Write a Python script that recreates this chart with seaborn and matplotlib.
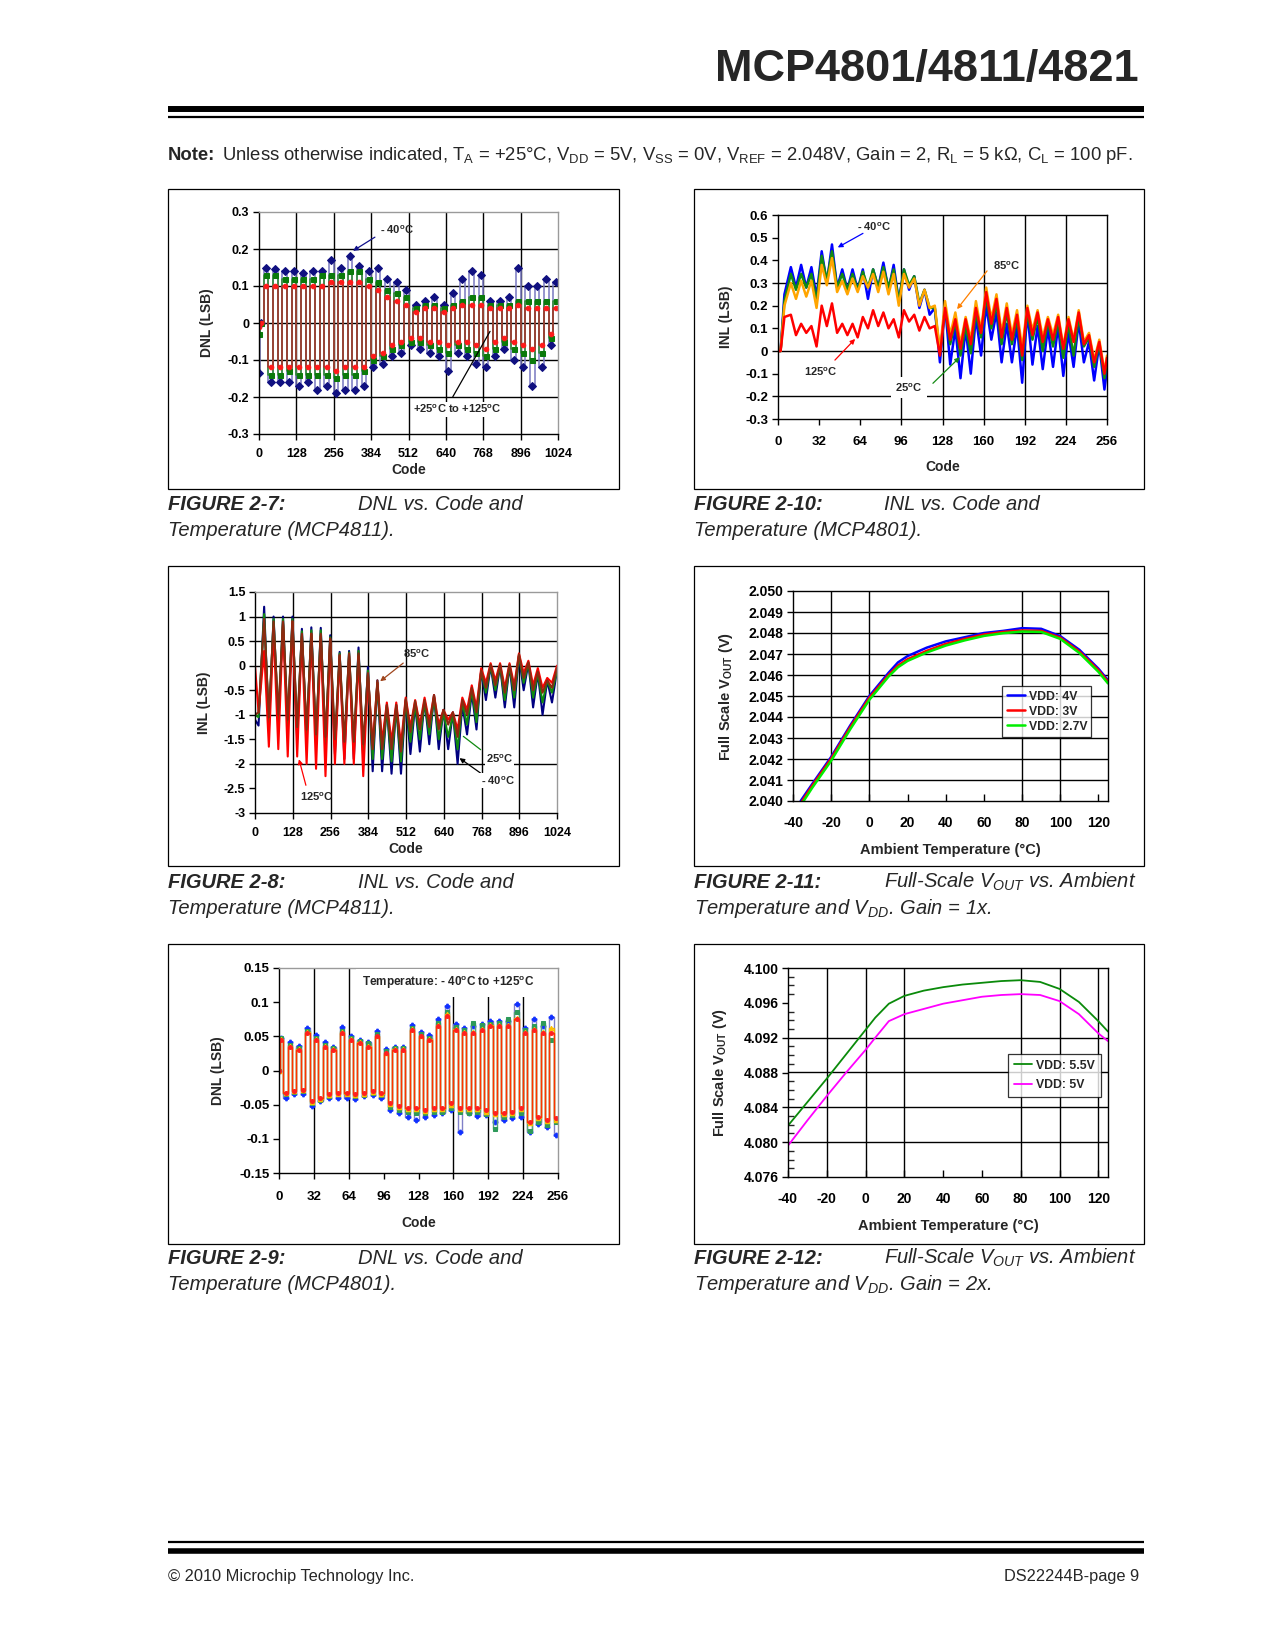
import matplotlib
matplotlib.use("Agg")
import matplotlib.pyplot as plt
import seaborn as sns
from matplotlib import font_manager
from matplotlib.patches import Rectangle
from matplotlib.lines import Line2D

# ---------------------------------------------------------------- data
# FIGURE 2-7 : DNL vs code (MCP4811), plateau levels per 16-code block
DNL7_CODES = [0, 8] + list(range(24, 1001, 16)) + [1016]
DNL7_M40 = [-0.135, 0.0,
            0.15, -0.16, 0.145, -0.16, 0.14, -0.16, 0.14, -0.17, 0.135, -0.16,
            0.14, -0.18, 0.14, -0.17, 0.17, -0.19, 0.15, -0.18, 0.18, -0.18,
            0.155, -0.17, 0.14, -0.12, 0.15, -0.11, 0.12, -0.09, 0.11, -0.08,
            0.09, -0.06, 0.05, -0.07, 0.06, -0.08, 0.07, -0.09, 0.05, -0.13,
            0.08, -0.08, 0.12, -0.09, 0.14, -0.11, 0.13, -0.12, 0.06, -0.09,
            0.06, -0.07, 0.07, -0.10, 0.15, -0.12, 0.10, -0.17, 0.10, -0.12,
            0.12, -0.06,
            0.11]
DNL7_25 = [-0.03, 0.0,
           0.13, -0.14, 0.13, -0.14, 0.12, -0.13, 0.12, -0.14, 0.12, -0.14,
           0.12, -0.14, 0.13, -0.14, 0.13, -0.15, 0.13, -0.14, 0.14, -0.14,
           0.14, -0.13, 0.12, -0.10, 0.11, -0.09, 0.09, -0.07, 0.08, -0.06,
           0.07, -0.05, 0.04, -0.05, 0.05, -0.06, 0.05, -0.07, 0.04, -0.08,
           0.05, -0.06, 0.06, -0.07, 0.07, -0.08, 0.07, -0.09, 0.05, -0.07,
           0.05, -0.05, 0.05, -0.07, 0.06, -0.08, 0.06, -0.10, 0.06, -0.08,
           0.06, -0.04,
           0.06]
DNL7_125 = [-0.01, 0.0,
            0.10, -0.12, 0.10, -0.12, 0.10, -0.12, 0.10, -0.12, 0.10, -0.12,
            0.10, -0.12, 0.10, -0.12, 0.11, -0.13, 0.11, -0.12, 0.11, -0.12,
            0.11, -0.12, 0.10, -0.09, 0.09, -0.08, 0.07, -0.06, 0.06, -0.05,
            0.05, -0.04, 0.03, -0.04, 0.04, -0.05, 0.04, -0.05, 0.03, -0.06,
            0.04, -0.05, 0.05, -0.05, 0.05, -0.06, 0.05, -0.07, 0.04, -0.05,
            0.04, -0.04, 0.04, -0.05, 0.05, -0.06, 0.04, -0.07, 0.04, -0.06,
            0.04, -0.03,
            0.04]

# FIGURE 2-10 : INL vs code (MCP4801)
INL10_CODES = [0, 2, 5] + list(range(10, 255, 4)) + [256]
INL10_M40 = [0, 0, 0.25,
             0.37, 0.28, 0.38, 0.28, 0.37, 0.24, 0.44, 0.30, 0.47, 0.28,
             0.36, 0.27, 0.36, 0.27, 0.36, 0.23, 0.36, 0.28, 0.39, 0.27,
             0.38, 0.22, 0.36, 0.27, 0.33, 0.19, 0.27, 0.16, 0.19, -0.05,
             0.20, -0.06, 0.10, -0.12, 0.10, -0.10, 0.15, -0.02, 0.20, 0.05,
             0.17, -0.05, 0.12, -0.05, 0.11, -0.14, 0.17, -0.06, 0.11, -0.08,
             0.10, -0.07, 0.11, -0.11, 0.08, -0.07, 0.13, -0.05, 0.04, -0.13,
             0.03, -0.17,
             -0.08]
INL10_25 = [0, 0, 0.22,
            0.34, 0.27, 0.34, 0.28, 0.34, 0.22, 0.42, 0.31, 0.44, 0.28,
            0.34, 0.27, 0.34, 0.27, 0.35, 0.28, 0.36, 0.28, 0.37, 0.28,
            0.36, 0.22, 0.36, 0.29, 0.33, 0.21, 0.27, 0.19, 0.19, -0.01,
            0.19, 0.03, 0.13, -0.02, 0.11, -0.01, 0.17, 0.06, 0.24, 0.10,
            0.21, 0.03, 0.17, 0.03, 0.14, -0.04, 0.17, 0.05, 0.15, 0.00,
            0.13, 0.02, 0.13, -0.03, 0.12, -0.02, 0.15, 0.02, 0.06, -0.07,
            0.03, -0.12,
            -0.05]
INL10_85 = [0, 0, 0.20,
            0.30, 0.23, 0.31, 0.24, 0.31, 0.19, 0.38, 0.29, 0.41, 0.26,
            0.31, 0.25, 0.32, 0.26, 0.33, 0.28, 0.34, 0.26, 0.35, 0.25,
            0.34, 0.20, 0.34, 0.28, 0.32, 0.20, 0.27, 0.19, 0.20, 0.00,
            0.22, 0.07, 0.17, 0.03, 0.15, 0.05, 0.22, 0.09, 0.28, 0.14,
            0.25, 0.08, 0.21, 0.07, 0.18, 0.01, 0.20, 0.09, 0.18, 0.06,
            0.15, 0.07, 0.16, 0.02, 0.15, 0.05, 0.18, 0.04, 0.08, -0.04,
            0.05, -0.09,
            -0.02]
INL10_125 = [0, 0, 0.15,
             0.16, 0.07, 0.12, 0.08, 0.11, 0.02, 0.20, 0.11, 0.21, 0.08,
             0.12, 0.07, 0.12, 0.06, 0.15, 0.10, 0.18, 0.11, 0.17, 0.10,
             0.14, 0.06, 0.18, 0.13, 0.16, 0.09, 0.15, 0.10, 0.11, -0.02,
             0.19, 0.05, 0.14, 0.01, 0.14, 0.03, 0.19, 0.08, 0.26, 0.12,
             0.23, 0.06, 0.19, 0.05, 0.16, -0.02, 0.19, 0.07, 0.17, 0.04,
             0.14, 0.05, 0.15, 0.01, 0.14, 0.04, 0.17, 0.03, 0.07, -0.05,
             0.04, -0.10,
             -0.03]

# FIGURE 2-8 : INL vs code (MCP4811)
INL8_CODES = [0, 12] + list(range(31, 1008, 16)) + [1024]
INL8_M40 = [-1.10, -1.22,
            1.20, -1.30, 1.00, -1.20, 1.00, -1.30, 1.00, -1.50, 0.75, -1.50,
            0.78, -1.60, 0.77, -1.70, 0.62, -1.80, 0.28, -1.90, 0.30, -1.90,
            0.37, -1.90, -0.03, -2.15, -0.30, -2.15, -0.80, -2.20, -0.80, -2.20,
            -0.70, -1.80, -0.80, -1.75, -0.70, -1.60, -0.60, -1.70, -0.90, -1.70,
            -0.95, -2.00, -0.80, -1.40, -0.55, -1.30, -0.10, -0.70, 0.00, -0.65,
            0.00, -0.85, 0.00, -0.85, 0.20, -0.50, 0.05, -0.85, -0.15, -1.00,
            -0.30, -0.75,
            -0.10]
INL8_25 = [-1.00, -1.05,
           1.05, -1.15, 0.95, -1.10, 0.95, -1.20, 0.95, -1.35, 0.70, -1.40,
           0.72, -1.50, 0.72, -1.55, 0.58, -1.65, 0.25, -1.70, 0.27, -1.70,
           0.30, -1.75, -0.10, -1.90, -0.35, -1.90, -0.85, -1.95, -0.85, -1.95,
           -0.72, -1.55, -0.80, -1.50, -0.75, -1.40, -0.65, -1.50, -0.95, -1.45,
           -1.00, -1.70, -0.75, -1.20, -0.50, -1.15, -0.10, -0.55, 0.00, -0.50,
           0.00, -0.70, 0.00, -0.65, 0.20, -0.35, 0.05, -0.65, -0.15, -0.75,
           -0.30, -0.55,
           -0.10]
INL8_85 = [-1.00, -0.95,
           0.95, -1.05, 0.90, -1.00, 0.90, -1.10, 0.90, -1.25, 0.65, -1.30,
           0.65, -1.40, 0.65, -1.45, 0.55, -1.50, 0.22, -1.55, 0.25, -1.55,
           0.25, -1.60, -0.15, -1.70, -0.30, -1.70, -0.80, -1.70, -0.80, -1.75,
           -0.68, -1.35, -0.72, -1.30, -0.70, -1.25, -0.60, -1.30, -0.90, -1.20,
           -0.95, -1.45, -0.70, -1.00, -0.45, -0.95, -0.10, -0.45, 0.02, -0.40,
           0.02, -0.55, 0.02, -0.50, 0.23, -0.25, 0.07, -0.50, -0.12, -0.55,
           -0.30, -0.45,
           -0.05]
INL8_125 = [0.00, -0.95,
            0.30, -1.65, 0.75, -1.70, 0.85, -1.85, 0.90, -1.85, 0.60, -2.00,
            0.65, -2.10, 0.60, -2.25, 0.55, -2.00, 0.20, -2.00, 0.20, -2.00,
            0.20, -2.25, -0.20, -1.60, -0.35, -1.55, -0.75, -1.55, -0.75, -1.60,
            -0.65, -1.25, -0.70, -1.20, -0.65, -1.15, -0.60, -1.20, -0.90, -1.10,
            -0.95, -1.30, -0.65, -0.90, -0.40, -0.85, -0.05, -0.35, 0.05, -0.30,
            0.05, -0.45, 0.05, -0.40, 0.25, -0.15, 0.10, -0.40, -0.05, -0.45,
            -0.25, -0.35,
            0.00]

# FIGURE 2-9 : DNL vs code (MCP4801)
DNL9_CODES = [0] + list(range(2, 256, 4))
DNL9_BLUE = [0.0,
             0.048, -0.040, 0.042, -0.035, 0.036, -0.035, 0.062, -0.052, 0.052, -0.045,
             0.042, -0.040, 0.035, -0.040, 0.063, -0.040, 0.050, -0.042, 0.045, -0.038,
             0.042, -0.036, 0.058, -0.040, 0.032, -0.058, 0.034, -0.062, 0.035, -0.068,
             0.066, -0.072, 0.056, -0.068, 0.052, -0.065, 0.075, -0.062, 0.095, -0.058,
             0.068, -0.090, 0.062, -0.062, 0.065, -0.066, 0.068, -0.065, 0.072, -0.075,
             0.072, -0.072, 0.072, -0.070, 0.098, -0.068, 0.062, -0.090, 0.075, -0.078,
             0.065, -0.082, 0.078, -0.095]
DNL9_GREEN = [0.0,
              0.048, -0.035, 0.038, -0.032, 0.033, -0.030, 0.058, -0.047, 0.048, -0.043,
              0.038, -0.038, 0.033, -0.035, 0.058, -0.035, 0.048, -0.038, 0.043, -0.036,
              0.040, -0.033, 0.053, -0.036, 0.028, -0.053, 0.033, -0.058, 0.033, -0.060,
              0.062, -0.062, 0.053, -0.062, 0.048, -0.060, 0.070, -0.060, 0.085, -0.055,
              0.064, -0.060, 0.060, -0.062, 0.070, -0.060, 0.066, -0.064, 0.068, -0.085,
              0.070, -0.068, 0.075, -0.065, 0.085, -0.062, 0.060, -0.088, 0.065, -0.075,
              0.070, -0.080, 0.045, -0.075]
DNL9_ORANGE = [0.0,
               0.046, -0.033, 0.036, -0.030, 0.031, -0.029, 0.056, -0.046, 0.046, -0.041,
               0.036, -0.036, 0.031, -0.034, 0.056, -0.034, 0.046, -0.036, 0.041, -0.034,
               0.036, -0.031, 0.051, -0.034, 0.026, -0.049, 0.031, -0.054, 0.031, -0.056,
               0.061, -0.056, 0.051, -0.059, 0.046, -0.056, 0.066, -0.056, 0.082, -0.050,
               0.061, -0.056, 0.056, -0.056, 0.056, -0.057, 0.061, -0.060, 0.066, -0.064,
               0.066, -0.064, 0.066, -0.062, 0.077, -0.057, 0.056, -0.077, 0.061, -0.070,
               0.056, -0.074, 0.062, -0.072]
DNL9_RED = [0.0,
            0.045, -0.033, 0.035, -0.030, 0.030, -0.028, 0.055, -0.045, 0.045, -0.040,
            0.035, -0.035, 0.030, -0.033, 0.055, -0.033, 0.045, -0.035, 0.040, -0.033,
            0.035, -0.030, 0.050, -0.033, 0.025, -0.048, 0.030, -0.052, 0.030, -0.055,
            0.060, -0.055, 0.050, -0.058, 0.045, -0.055, 0.065, -0.055, 0.080, -0.048,
            0.060, -0.055, 0.055, -0.055, 0.055, -0.055, 0.060, -0.058, 0.065, -0.062,
            0.065, -0.062, 0.065, -0.060, 0.075, -0.055, 0.055, -0.075, 0.060, -0.068,
            0.055, -0.072, 0.055, -0.070]

# FIGURE 2-11 : full scale Vout vs temperature, gain 1x
T11 = [-36, -30, -20, -10, 0, 10, 15, 20, 30, 40, 50, 60, 70, 80, 90, 100, 110, 120, 125]
V11_4V = [2.04000, 2.04080, 2.04210, 2.04360, 2.04500, 2.04610, 2.04660, 2.04690, 2.04730,
          2.04760, 2.04780, 2.04800, 2.04810, 2.04823, 2.04820, 2.04785, 2.04720, 2.04630, 2.04575]
V11_3V = [2.03988, 2.04072, 2.04202, 2.04352, 2.04492, 2.04600, 2.04645, 2.04675, 2.04715,
          2.04748, 2.04772, 2.04793, 2.04805, 2.04812, 2.04810, 2.04778, 2.04712, 2.04623, 2.04568]
V11_27V = [2.03978, 2.04062, 2.04192, 2.04342, 2.04482, 2.04592, 2.04637, 2.04667, 2.04707,
           2.04740, 2.04765, 2.04786, 2.04799, 2.04807, 2.04805, 2.04772, 2.04705, 2.04615, 2.04560]

# FIGURE 2-12 : full scale Vout vs temperature, gain 2x
T12 = [-40, -30, -20, -10, 0, 5, 12, 20, 30, 40, 50, 60, 70, 80, 90, 100, 110, 120, 125]
V12_55V = [4.0819, 4.0846, 4.0873, 4.0901, 4.0929, 4.0943, 4.0959, 4.0968, 4.0974, 4.0978,
           4.0981, 4.0983, 4.0985, 4.0986, 4.0984, 4.0976, 4.0961, 4.0939, 4.0927]
V12_5V = [4.0796, 4.0825, 4.0853, 4.0880, 4.0906, 4.0920, 4.0939, 4.0947, 4.0953, 4.0959,
          4.0963, 4.0967, 4.0969, 4.0970, 4.0969, 4.0962, 4.0947, 4.0925, 4.0916]

CODE_TICKS_1024 = [0, 128, 256, 384, 512, 640, 768, 896, 1024]
CODE_TICKS_256 = [0, 32, 64, 96, 128, 160, 192, 224, 256]
TEMP_TICKS = [-40, -20, 0, 20, 40, 60, 80, 100, 120]

# ---------------------------------------------------------------- style
sns.set_theme(style="white")
names = {f.name for f in font_manager.fontManager.ttflist}
BASE = "Liberation Sans" if "Liberation Sans" in names else "DejaVu Sans"
plt.rcParams["font.family"] = [BASE, "DejaVu Sans"]
plt.rcParams["mathtext.fontset"] = "custom"
plt.rcParams["mathtext.rm"] = BASE
plt.rcParams["mathtext.it"] = BASE + ":italic"
plt.rcParams["mathtext.bf"] = BASE + ":bold"
plt.rcParams["axes.linewidth"] = 1.0

W, H = 1275, 1650
fig = plt.figure(figsize=(W / 100, H / 100), dpi=100)
fig.patch.set_facecolor("white")


def fx(x):
    return x / W


def fy(y):
    return 1 - y / H


def ftext(x, y, s, **kw):
    fig.text(fx(x), fy(y), s, **kw)


def fline(x0, x1, y, lw):
    fig.add_artist(Line2D([fx(x0), fx(x1)], [fy(y), fy(y)], color="black", lw=lw,
                          transform=fig.transFigure, solid_capstyle="butt"))


def frame(l, t, r, b):
    fig.add_artist(Rectangle((fx(l), fy(b)), (r - l) / W, (b - t) / H, fill=False,
                             lw=0.9, edgecolor="black", transform=fig.transFigure))


def px_axes(l, t, r, b):
    return fig.add_axes([fx(l), fy(b), (r - l) / W, (b - t) / H])


def style(ax, xlim, ylim, xticks, yticks, ylabels, fs, gray_spines=True,
          xlabel="Code", ylabel="", xdir="out", ylabfs=10, xpad=5, ylpad=7):
    ax.set_xlim(*xlim)
    ax.set_ylim(*ylim)
    ax.set_xticks(xticks)
    ax.set_xticklabels([str(t) for t in xticks], fontsize=fs, fontweight="bold")
    ax.set_yticks(yticks)
    ax.set_yticklabels(ylabels, fontsize=fs, fontweight="bold")
    ax.tick_params(axis="both", which="major", length=4, width=1, color="black",
                   pad=3, labelcolor="black")
    ax.tick_params(axis="x", direction=xdir, pad=xpad)
    ax.tick_params(axis="y", direction="out")
    ax.tick_params(left=True, bottom=True, top=False, right=False)
    for sp in ax.spines.values():
        sp.set_visible(True)
        sp.set_color("black")
        sp.set_linewidth(1.0)
    if gray_spines:
        ax.spines["top"].set_color("#9a9a9a")
        ax.spines["right"].set_color("#9a9a9a")
    ax.set_xlabel(xlabel, fontsize=ylabfs, fontweight="bold", labelpad=2)
    ax.set_ylabel(ylabel, fontsize=ylabfs, fontweight="bold", labelpad=ylpad)
    ax.grid(False)
    ax.set_facecolor("white")


def grid_h(ax, vals, lw=1.0):
    for v in vals:
        ax.axhline(v, color="black", lw=lw, zorder=0.8)


def grid_v(ax, vals, lw=1.0):
    for v in vals:
        ax.axvline(v, color="black", lw=lw, zorder=0.8)


# ---------------------------------------------------------------- page text
ftext(1139, 70, "MCP4801/4811/4821", fontsize=32.5, fontweight="bold", ha="right", va="center")
fline(168, 1144, 109, 4.3)
fline(168, 1144, 116.5, 1.6)
ftext(168, 156, "Note:", fontsize=13.35, fontweight="bold", ha="left", va="center")
ftext(222, 156,
      r"Unless otherwise indicated, T$_{\mathrm{A}}$ = +25°C, V$_{\mathrm{DD}}$ = 5V, "
      r"V$_{\mathrm{SS}}$ = 0V, V$_{\mathrm{REF}}$ = 2.048V, Gain = 2, R$_{\mathrm{L}}$ = 5 kΩ, "
      r"C$_{\mathrm{L}}$ = 100 pF.", fontsize=13.35, ha="left", va="center")

fline(168, 1144, 1542, 1.6)
fline(168, 1144, 1551, 4.0)
ftext(168, 1577, "© 2010 Microchip Technology Inc.", fontsize=11.8, ha="left", va="center")
ftext(1139, 1577, "DS22244B-page 9", fontsize=11.8, ha="right", va="center")

CAP = 14.5


def caption(x, y, label, rest, line2):
    ftext(x, y, label, fontsize=CAP, fontstyle="italic", fontweight="bold", ha="left", va="center")
    ftext(x + 190, y, rest, fontsize=CAP, fontstyle="italic", ha="left", va="center")
    ftext(x, y + 26, line2, fontsize=CAP, fontstyle="italic", ha="left", va="center")


caption(168, 504, "FIGURE 2-7:", "DNL vs. Code and", "Temperature (MCP4811).")
caption(694, 504, "FIGURE 2-10:", "INL vs. Code and", "Temperature (MCP4801).")
caption(168, 882, "FIGURE 2-8:", "INL vs. Code and", "Temperature (MCP4811).")
caption(694, 882, "FIGURE 2-11:", r"Full-Scale V$_{\mathit{OUT}}$ vs. Ambient",
        r"Temperature and V$_{\mathit{DD}}$. Gain = 1x.")
caption(168, 1258, "FIGURE 2-9:", "DNL vs. Code and", "Temperature (MCP4801).")
caption(694, 1258, "FIGURE 2-12:", r"Full-Scale V$_{\mathit{OUT}}$ vs. Ambient",
        r"Temperature and V$_{\mathit{DD}}$. Gain = 2x.")

for (l, t, r, b) in [(168, 189, 619, 489), (694, 189, 1144, 489),
                     (168, 566, 619, 866), (694, 566, 1144, 866),
                     (168, 944, 619, 1244), (694, 944, 1144, 1244)]:
    frame(l, t, r, b)

WHITE_BOX = dict(facecolor="white", edgecolor="none", pad=1.0)

# ---------------------------------------------------------------- FIGURE 2-7
ax = px_axes(259, 212, 558, 434)
grid_h(ax, [-0.2, -0.1, 0, 0.1, 0.2])
grid_v(ax, CODE_TICKS_1024[1:-1])
for vals, lc, mc, mk, ms in [(DNL7_M40, "#7878c0", "#101080", "D", 3.6),
                             (DNL7_25, "#2e8b2e", "#0b7a0b", "s", 3.6),
                             (DNL7_125, "#b03030", "#ff1a1a", "o", 3.3)]:
    sns.lineplot(x=DNL7_CODES, y=vals, ax=ax, color=lc, lw=1.1, drawstyle="steps-mid",
                 marker=mk, markersize=ms, markerfacecolor=mc, markeredgecolor=mc,
                 legend=False, sort=False)
style(ax, (0, 1024), (-0.3, 0.3), CODE_TICKS_1024, [-0.3, -0.2, -0.1, 0, 0.1, 0.2, 0.3],
      ["-0.3", "-0.2", "-0.1", "0", "0.1", "0.2", "0.3"], 9, ylabel="DNL (LSB)", xpad=6,
      ylpad=10)
ax.annotate("", xy=(314, 0.191), xytext=(405, 0.236),
            arrowprops=dict(arrowstyle="-|>", color="#10108a", lw=0.9, mutation_scale=7))
ax.text(413, 0.252, "- 40$^{\\mathbf{o}}$C", fontsize=8, fontweight="bold", ha="left", va="center")
ax.annotate("", xy=(796, -0.016), xytext=(659, -0.206),
            arrowprops=dict(arrowstyle="-", color="black", lw=0.9))
ax.text(680, -0.233, "+25$^{\\mathbf{o}}$C to +125$^{\\mathbf{o}}$C", fontsize=8, fontweight="bold",
        ha="center", va="center", bbox=WHITE_BOX, zorder=5)

# ---------------------------------------------------------------- FIGURE 2-10
ax = px_axes(778, 215, 1107, 419)
grid_h(ax, [0.3, 0, -0.2])
grid_v(ax, [96, 128, 160, 192, 224])
for vals, c in [(INL10_M40, "#0000ff"), (INL10_25, "#138a13"),
                (INL10_85, "#ffa500"), (INL10_125, "#ff0000")]:
    sns.lineplot(x=INL10_CODES, y=vals, ax=ax, color=c, lw=1.8, legend=False, sort=False)
style(ax, (0, 256), (-0.3, 0.6), CODE_TICKS_256,
      [-0.3, -0.2, -0.1, 0, 0.1, 0.2, 0.3, 0.4, 0.5, 0.6],
      ["-0.3", "-0.2", "-0.1", "0", "0.1", "0.2", "0.3", "0.4", "0.5", "0.6"], 9.5,
      gray_spines=False, ylabel="INL (LSB)", xpad=8, ylpad=9)
ax.xaxis.labelpad = 9
ax.annotate("", xy=(44.6, 0.451), xytext=(68, 0.525),
            arrowprops=dict(arrowstyle="-|>", color="#0000ff", lw=0.9, mutation_scale=7))
ax.text(75, 0.547, "- 40$^{\\mathbf{o}}$C", fontsize=8, fontweight="bold", ha="center", va="center")
ax.annotate("", xy=(138, 0.175), xytext=(164, 0.363),
            arrowprops=dict(arrowstyle="-|>", color="#ff8000", lw=0.9, mutation_scale=7))
ax.text(177.7, 0.378, "85$^{\\mathbf{o}}$C", fontsize=8, fontweight="bold", ha="center", va="center")
ax.annotate("", xy=(61.5, 0.062), xytext=(42.8, -0.049),
            arrowprops=dict(arrowstyle="-|>", color="#ff0000", lw=0.9, mutation_scale=7))
ax.text(33.2, -0.093, "125$^{\\mathbf{o}}$C", fontsize=8, fontweight="bold", ha="center", va="center")
ax.annotate("", xy=(143, -0.019), xytext=(119, -0.151),
            arrowprops=dict(arrowstyle="-|>", color="#138a13", lw=0.9, mutation_scale=7))
ax.text(101.7, -0.162, "25$^{\\mathbf{o}}$C", fontsize=8, fontweight="bold", ha="center",
        va="center", bbox=dict(facecolor="white", edgecolor="none", pad=3), zorder=5)

# ---------------------------------------------------------------- FIGURE 2-8
ax = px_axes(255, 592, 557, 813)
grid_h(ax, [1, 0.5, 0, -1, -2])
grid_v(ax, CODE_TICKS_1024[1:-1])
for vals, c in [(INL8_M40, "#000080"), (INL8_25, "#108a10"),
                (INL8_125, "#ff0000"), (INL8_85, "#8b2a10")]:
    sns.lineplot(x=INL8_CODES, y=vals, ax=ax, color=c, lw=1.5, legend=False, sort=False)
style(ax, (0, 1024), (-3, 1.5), CODE_TICKS_1024,
      [-3, -2.5, -2, -1.5, -1, -0.5, 0, 0.5, 1, 1.5],
      ["-3", "-2.5", "-2", "-1.5", "-1", "-0.5", "0", "0.5", "1", "1.5"], 9, ylabel="INL (LSB)",
      xpad=6, ylpad=9)
ax.annotate("", xy=(417, -0.353), xytext=(510, 0.088),
            arrowprops=dict(arrowstyle="-|>", color="#a0461e", lw=0.9, mutation_scale=7))
ax.text(547, 0.238, "85$^{\\mathbf{o}}$C", fontsize=8, fontweight="bold", ha="center", va="center")
ax.annotate("", xy=(146.6, -1.85), xytext=(175, -2.49),
            arrowprops=dict(arrowstyle="-|>", color="#ff0000", lw=0.9, mutation_scale=7))
ax.text(208.6, -2.66, "125$^{\\mathbf{o}}$C", fontsize=8, fontweight="bold", ha="center", va="center")
ax.annotate("", xy=(699, -1.405), xytext=(772.5, -1.745),
            arrowprops=dict(arrowstyle="-", color="#108a10", lw=0.9))
ax.text(829, -1.90, "25$^{\\mathbf{o}}$C", fontsize=8, fontweight="bold", ha="center",
        va="center", bbox=WHITE_BOX, zorder=5)
ax.annotate("", xy=(685.7, -1.85), xytext=(772.5, -2.22),
            arrowprops=dict(arrowstyle="-|>", color="black", lw=0.9, mutation_scale=7))
ax.text(823, -2.34, "- 40$^{\\mathbf{o}}$C", fontsize=8, fontweight="bold", ha="center",
        va="center", bbox=WHITE_BOX, zorder=5)

# ---------------------------------------------------------------- FIGURE 2-11
ax = px_axes(793, 591, 1108, 801)
grid_h(ax, [2.041 + 0.001 * i for i in range(9)])
grid_v(ax, [-20, 0, 80, 100])
for vals, c, lab in [(V11_4V, "#0000ff", "VDD: 4V"), (V11_3V, "#ff0000", "VDD: 3V"),
                     (V11_27V, "#00ee00", "VDD: 2.7V")]:
    sns.lineplot(x=T11, y=vals, ax=ax, color=c, lw=1.8, label=lab, sort=False)
style(ax, (-40, 125), (2.040, 2.050), TEMP_TICKS,
      [2.040 + 0.001 * i for i in range(11)],
      ["%.3f" % (2.040 + 0.001 * i) for i in range(11)], 10, gray_spines=False,
      xlabel="Ambient Temperature (°C)", ylabel=r"Full Scale V$_{\mathbf{OUT}}$ (V)",
      xdir="in", ylabfs=10.5, ylpad=10)
ax.set_xticks([-30, -10, 10, 30, 50, 70, 90, 110], minor=True)
ax.tick_params(axis="x", which="both", direction="in", length=5, pad=11)
ax.xaxis.labelpad = 9
leg = ax.legend(loc="upper left", bbox_to_anchor=(0.645, 0.575), frameon=True, fancybox=False,
                borderpad=0.35, labelspacing=0.25, handlelength=1.5, handletextpad=0.3,
                prop={"weight": "bold", "size": 8.8})
leg.get_frame().set_edgecolor("black")
leg.get_frame().set_linewidth(0.9)

# ---------------------------------------------------------------- FIGURE 2-9
ax = px_axes(279, 968, 558, 1173)
grid_v(ax, [32, 64, 160, 192, 224])
for vals, lc, mc, mk, ms in [(DNL9_BLUE, "#8080c8", "#1030ff", "P", 3.4),
                             (DNL9_GREEN, "#5aa07a", "#2e9a5a", "s", 3.2),
                             (DNL9_ORANGE, "#f0b000", "#ffc000", "^", 3.2),
                             (DNL9_RED, "#ff3300", "#ff2020", "o", 2.8)]:
    sns.lineplot(x=DNL9_CODES, y=vals, ax=ax, color=lc, lw=1.0, drawstyle="steps-mid",
                 marker=mk, markersize=ms, markerfacecolor=mc, markeredgecolor=mc,
                 legend=False, sort=False)
style(ax, (0, 256), (-0.15, 0.15), CODE_TICKS_256,
      [-0.15, -0.1, -0.05, 0, 0.05, 0.1, 0.15],
      ["-0.15", "-0.1", "-0.05", "0", "0.05", "0.1", "0.15"], 9.5, ylabel="DNL (LSB)",
      xpad=9, ylpad=10)
ax.xaxis.labelpad = 9
ax.text(155, 0.1285, "Temperature: - 40$^{\\mathbf{o}}$C to +125$^{\\mathbf{o}}$C", fontsize=8.5,
        fontweight="bold", ha="center", va="center",
        bbox=dict(facecolor="white", edgecolor="none", pad=4), zorder=5)

# ---------------------------------------------------------------- FIGURE 2-12
ax = px_axes(788, 968, 1108, 1177)
grid_h(ax, [4.080, 4.084, 4.088, 4.092])
grid_v(ax, [-20, 0, 20, 80, 100, 120])
for vals, c, lab in [(V12_55V, "#0a8a0a", "VDD: 5.5V"), (V12_5V, "#ff00ff", "VDD: 5V")]:
    sns.lineplot(x=T12, y=vals, ax=ax, color=c, lw=1.3, label=lab, sort=False)
style(ax, (-40, 125), (4.076, 4.100), TEMP_TICKS,
      [4.076 + 0.004 * i for i in range(7)],
      ["%.3f" % (4.076 + 0.004 * i) for i in range(7)], 10, gray_spines=False,
      xlabel="Ambient Temperature (°C)", ylabel=r"Full Scale V$_{\mathbf{OUT}}$ (V)",
      xdir="in", ylabfs=10.5, ylpad=10)
ax.set_xticks([-30, -10, 10, 30, 50, 70, 90, 110], minor=True)
ax.set_yticks([4.076 + 0.001 * i for i in range(25)], minor=True)
ax.tick_params(axis="x", which="both", direction="in", length=5, pad=11)
ax.tick_params(axis="y", which="minor", direction="in", length=4, left=True)
ax.xaxis.labelpad = 9
leg = ax.legend(loc="upper left", bbox_to_anchor=(0.668, 0.62), frameon=True, fancybox=False,
                borderpad=0.5, labelspacing=0.6, handlelength=1.5, handletextpad=0.3,
                prop={"weight": "bold", "size": 8.8})
leg.get_frame().set_edgecolor("black")
leg.get_frame().set_linewidth(0.9)

fig.savefig("out.png", dpi=100, facecolor="white")
